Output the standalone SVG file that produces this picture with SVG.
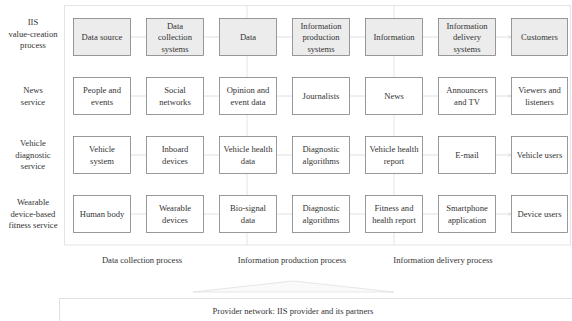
<svg xmlns="http://www.w3.org/2000/svg" width="572" height="321" viewBox="0 0 572 321">
<style>
text{font-family:"Liberation Serif","Times New Roman",serif;font-size:8.6px;fill:#333;text-anchor:middle}
.box{fill:#fff;stroke:#808080;stroke-width:0.8}
.hd{fill:#ececec}
.cn{stroke:#d8d8d8;stroke-width:0.8;fill:none}
.pn{fill:none;stroke:#e4e4e4;stroke-width:1}
</style>
<defs>
<marker id="ah" markerWidth="4" markerHeight="4" refX="3" refY="2" orient="auto" markerUnits="userSpaceOnUse">
<path d="M0,0.5 L3,2 L0,3.5" fill="none" stroke="#d0d0d0" stroke-width="0.6"/>
</marker>
</defs>
<rect width="572" height="321" fill="#fff"/>
<g id="panel">
<rect class="pn" x="64.5" y="5.5" width="506" height="239.5"/>
<line class="pn" x1="247" y1="5.5" x2="247" y2="245"/>
<line class="pn" x1="394" y1="5.5" x2="394" y2="245"/>
</g>
<g id="connectors">
<path class="cn" marker-end="url(#ah)" d="M130,37 H146 M203,37 H219 M276,37 H292 M349,37 H365 M422,37 H438 M495,37 H511"/>
<path class="cn" marker-end="url(#ah)" d="M130,96 H146 M203,96 H219 M276,96 H292 M349,96 H365 M422,96 H438 M495,96 H511"/>
<path class="cn" marker-end="url(#ah)" d="M130,155 H146 M203,155 H219 M276,155 H292 M349,155 H365 M422,155 H438 M495,155 H511"/>
<path class="cn" marker-end="url(#ah)" d="M130,214 H146 M203,214 H219 M276,214 H292 M349,214 H365 M422,214 H438 M495,214 H511"/>
</g>
<g id="row-labels">
<text x="33" y="25">IIS</text><text x="33" y="36.5">value-creation</text><text x="33" y="48">process</text>
<text x="33" y="93">News</text><text x="33" y="104.5">service</text>
<text x="33" y="146">Vehicle</text><text x="33" y="157.5">diagnostic</text><text x="33" y="169">service</text>
<text x="33" y="205">Wearable</text><text x="33" y="216.5">device-based</text><text x="33" y="228">fitness service</text>
</g>
<g id="r1c1"><rect class="box hd" x="73.5" y="18.5" width="57" height="37"/><text x="102" y="40">Data source</text></g>
<g id="r1c2"><rect class="box hd" x="146.5" y="18.5" width="57" height="37"/><text x="175" y="28.5">Data</text><text x="175" y="40">collection</text><text x="175" y="51.5">systems</text></g>
<g id="r1c3"><rect class="box hd" x="219.5" y="18.5" width="57" height="37"/><text x="248" y="40">Data</text></g>
<g id="r1c4"><rect class="box hd" x="292.5" y="18.5" width="57" height="37"/><text x="321" y="28.5">Information</text><text x="321" y="40">production</text><text x="321" y="51.5">systems</text></g>
<g id="r1c5"><rect class="box hd" x="365.5" y="18.5" width="57" height="37"/><text x="394" y="40">Information</text></g>
<g id="r1c6"><rect class="box hd" x="438.5" y="18.5" width="57" height="37"/><text x="467" y="28.5">Information</text><text x="467" y="40">delivery</text><text x="467" y="51.5">systems</text></g>
<g id="r1c7"><rect class="box hd" x="511.5" y="18.5" width="56" height="37"/><text x="539.5" y="40">Customers</text></g>

<g id="r2c1"><rect class="box" x="73.5" y="77.5" width="57" height="37"/><text x="102" y="93">People and</text><text x="102" y="104.5">events</text></g>
<g id="r2c2"><rect class="box" x="146.5" y="77.5" width="57" height="37"/><text x="175" y="93">Social</text><text x="175" y="104.5">networks</text></g>
<g id="r2c3"><rect class="box" x="219.5" y="77.5" width="57" height="37"/><text x="248" y="93">Opinion and</text><text x="248" y="104.5">event data</text></g>
<g id="r2c4"><rect class="box" x="292.5" y="77.5" width="57" height="37"/><text x="321" y="99">Journalists</text></g>
<g id="r2c5"><rect class="box" x="365.5" y="77.5" width="57" height="37"/><text x="394" y="99">News</text></g>
<g id="r2c6"><rect class="box" x="438.5" y="77.5" width="57" height="37"/><text x="467" y="93">Announcers</text><text x="467" y="104.5">and TV</text></g>
<g id="r2c7"><rect class="box" x="511.5" y="77.5" width="56" height="37"/><text x="539.5" y="93">Viewers and</text><text x="539.5" y="104.5">listeners</text></g>

<g id="r3c1"><rect class="box" x="73.5" y="136.5" width="57" height="37"/><text x="102" y="152">Vehicle</text><text x="102" y="163.5">system</text></g>
<g id="r3c2"><rect class="box" x="146.5" y="136.5" width="57" height="37"/><text x="175" y="152">Inboard</text><text x="175" y="163.5">devices</text></g>
<g id="r3c3"><rect class="box" x="219.5" y="136.5" width="57" height="37"/><text x="248" y="152">Vehicle health</text><text x="248" y="163.5">data</text></g>
<g id="r3c4"><rect class="box" x="292.5" y="136.5" width="57" height="37"/><text x="321" y="152">Diagnostic</text><text x="321" y="163.5">algorithms</text></g>
<g id="r3c5"><rect class="box" x="365.5" y="136.5" width="57" height="37"/><text x="394" y="152">Vehicle health</text><text x="394" y="163.5">report</text></g>
<g id="r3c6"><rect class="box" x="438.5" y="136.5" width="57" height="37"/><text x="467" y="158">E-mail</text></g>
<g id="r3c7"><rect class="box" x="511.5" y="136.5" width="56" height="37"/><text x="539.5" y="158">Vehicle users</text></g>

<g id="r4c1"><rect class="box" x="73.5" y="195.5" width="57" height="37"/><text x="102" y="217">Human body</text></g>
<g id="r4c2"><rect class="box" x="146.5" y="195.5" width="57" height="37"/><text x="175" y="211">Wearable</text><text x="175" y="222.5">devices</text></g>
<g id="r4c3"><rect class="box" x="219.5" y="195.5" width="57" height="37"/><text x="248" y="211">Bio-signal</text><text x="248" y="222.5">data</text></g>
<g id="r4c4"><rect class="box" x="292.5" y="195.5" width="57" height="37"/><text x="321" y="211">Diagnostic</text><text x="321" y="222.5">algorithms</text></g>
<g id="r4c5"><rect class="box" x="365.5" y="195.5" width="57" height="37"/><text x="394" y="211">Fitness and</text><text x="394" y="222.5">health report</text></g>
<g id="r4c6"><rect class="box" x="438.5" y="195.5" width="57" height="37"/><text x="467" y="211">Smartphone</text><text x="467" y="222.5">application</text></g>
<g id="r4c7"><rect class="box" x="511.5" y="195.5" width="56" height="37"/><text x="539.5" y="217">Device users</text></g>

<g id="process-labels">
<text x="142" y="263">Data collection process</text>
<text x="292" y="263">Information production process</text>
<text x="443" y="263">Information delivery process</text>
</g>
<g id="wedge">
<path d="M193,292 L293,281 L394,292 Z" fill="#fafafa" stroke="#dcdcdc" stroke-width="0.7"/>
</g>
<g id="provider">
<rect x="59.5" y="298.5" width="520" height="30" fill="#fff" stroke="#e0e0e0" stroke-width="1"/>
<text x="293" y="314">Provider network: IIS provider and its partners</text>
</g>
</svg>
